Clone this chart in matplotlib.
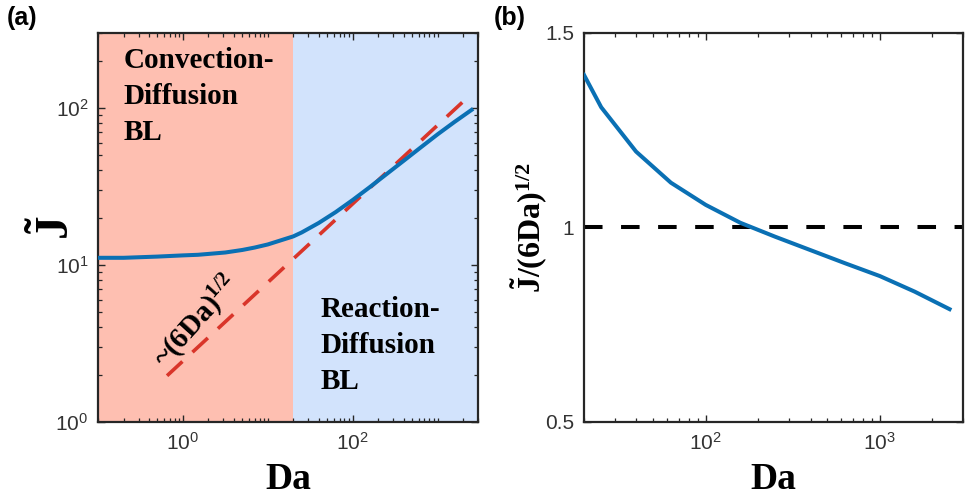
import matplotlib
matplotlib.use("Agg")
import matplotlib.pyplot as plt
from matplotlib.ticker import LogLocator, FixedLocator, NullFormatter, FixedFormatter

plt.rcParams['font.family'] = 'Liberation Sans'
plt.rcParams['mathtext.fontset'] = 'custom'
plt.rcParams['mathtext.rm'] = 'Liberation Serif:bold'
plt.rcParams['mathtext.bf'] = 'Liberation Serif:bold'
plt.rcParams['mathtext.it'] = 'Liberation Serif:bold'
plt.rcParams['mathtext.sf'] = 'Liberation Sans'

# panel (a): flux vs Da
da_a = [0.1, 0.2, 0.5, 1, 1.5, 2, 3.16, 5, 7, 10, 14, 20, 25.1, 39.8, 63.1,
        100, 158, 251, 398, 631, 1000, 1585, 2512]
j_a = [11.1, 11.1, 11.3, 11.5, 11.6, 11.75, 12.0, 12.45, 12.9, 13.5, 14.3,
       15.2, 16.1, 18.5, 21.7, 25.9, 31.2, 37.9, 46.0, 55.9, 67.8, 81.4, 97.0]
da_fit = [0.65, 2050]
j_fit = [1.97, 111]
da_split = 20

# panel (b): normalised flux
da_b = [20, 25.1, 39.8, 63.1, 100, 158, 251, 398, 631, 1000, 1585, 2512]
ratio_b = [1.392, 1.309, 1.195, 1.115, 1.058, 1.012, 0.976, 0.942, 0.908,
           0.875, 0.835, 0.790]

BLUE = '#0a70b4'
RED = '#d9352a'
PINK = '#febfb1'
LIGHTBLUE = '#d2e3fc'
FRAME = '#262626'
TICKC = '#333333'

fig = plt.figure(figsize=(9.65, 4.95), dpi=100)
axa = fig.add_axes([0.1016, 0.1475, 0.3938, 0.786])
axb = fig.add_axes([0.6052, 0.1475, 0.3927, 0.786])


def style_axes(ax):
    for s in ax.spines.values():
        s.set_color(FRAME)
        s.set_linewidth(1.6)
    ax.tick_params(which='both', direction='in', top=True, right=True,
                   color=FRAME, labelcolor=TICKC, labelsize=15, pad=7)
    ax.tick_params(which='major', length=5, width=1.0)
    ax.tick_params(which='minor', length=3, width=0.9)


def pow10(e):
    return r'$\mathsf{10^{%d}}$' % e


# ---- (a)
axa.set_xscale('log')
axa.set_yscale('log')
axa.set_xlim(0.1, 3000)
axa.set_ylim(1, 300)
axa.axvspan(0.1, da_split, color=PINK, lw=0, zorder=0)
axa.axvspan(da_split, 3000, color=LIGHTBLUE, lw=0, zorder=0)
axa.plot(da_fit, j_fit, color=RED, lw=2.6, dashes=(5.8, 3.8), zorder=2)
axa.plot(da_a, j_a, color=BLUE, lw=2.9, zorder=3)
axa.xaxis.set_major_locator(FixedLocator([1, 100]))
axa.xaxis.set_major_formatter(FixedFormatter([pow10(0), pow10(2)]))
axa.xaxis.set_minor_locator(LogLocator(base=10, subs=[1, 2, 3, 4, 5, 6, 7, 8, 9], numticks=20))
axa.xaxis.set_minor_formatter(NullFormatter())
axa.yaxis.set_major_locator(FixedLocator([1, 10, 100]))
axa.yaxis.set_major_formatter(FixedFormatter([pow10(0), pow10(1), pow10(2)]))
axa.yaxis.set_minor_locator(LogLocator(base=10, subs=[2, 3, 4, 5, 6, 7, 8, 9], numticks=20))
axa.yaxis.set_minor_formatter(NullFormatter())
style_axes(axa)
axa.set_xlabel('Da', family='Liberation Serif', weight='bold', fontsize=27, labelpad=6)
axa.set_ylabel(r'$\tilde{\mathbf{J}}$', fontsize=34)
axa.yaxis.set_label_coords(-0.05, 0.5)

serif_bold = dict(family='Liberation Serif', weight='bold', fontsize=21,
                  linespacing=1.45, color='black')
axa.text(0.066, 0.965, 'Convection-\nDiffusion\nBL', transform=axa.transAxes,
         ha='left', va='top', **serif_bold)
axa.text(0.585, 0.325, 'Reaction-\nDiffusion\nBL', transform=axa.transAxes,
         ha='left', va='top', **serif_bold)
axa.text(1.45, 4.35, r'~(6Da)$^{\mathregular{1/2}}$', rotation=48,
         ha='center', va='center', family='Liberation Serif', weight='bold',
         fontsize=21, rotation_mode='anchor')

# ---- (b)
axb.set_xscale('log')
axb.set_xlim(20, 3000)
axb.set_ylim(0.5, 1.5)
axb.axhline(1.0, color='black', lw=2.9, dashes=(4.6, 4.6), zorder=2)
axb.plot(da_b, ratio_b, color=BLUE, lw=2.9, zorder=3)
axb.xaxis.set_major_locator(FixedLocator([100, 1000]))
axb.xaxis.set_major_formatter(FixedFormatter([pow10(2), pow10(3)]))
axb.xaxis.set_minor_locator(LogLocator(base=10, subs=[2, 3, 4, 5, 6, 7, 8, 9], numticks=20))
axb.xaxis.set_minor_formatter(NullFormatter())
axb.yaxis.set_major_locator(FixedLocator([0.5, 1.0, 1.5]))
axb.yaxis.set_major_formatter(FixedFormatter(['0.5', '1', '1.5']))
style_axes(axb)
axb.set_xlabel('Da', family='Liberation Serif', weight='bold', fontsize=27, labelpad=6)
axb.set_ylabel(r'$\tilde{\mathbf{J}}\mathbf{/(6Da)}^{\mathbf{1/2}}$', fontsize=23)
axb.yaxis.set_label_coords(-0.09, 0.5)

fig.text(0.007, 0.988, '(a)', weight='bold', fontsize=18, ha='left', va='top')
fig.text(0.512, 0.988, '(b)', weight='bold', fontsize=18, ha='left', va='top')

fig.savefig('out.png', dpi=100)
